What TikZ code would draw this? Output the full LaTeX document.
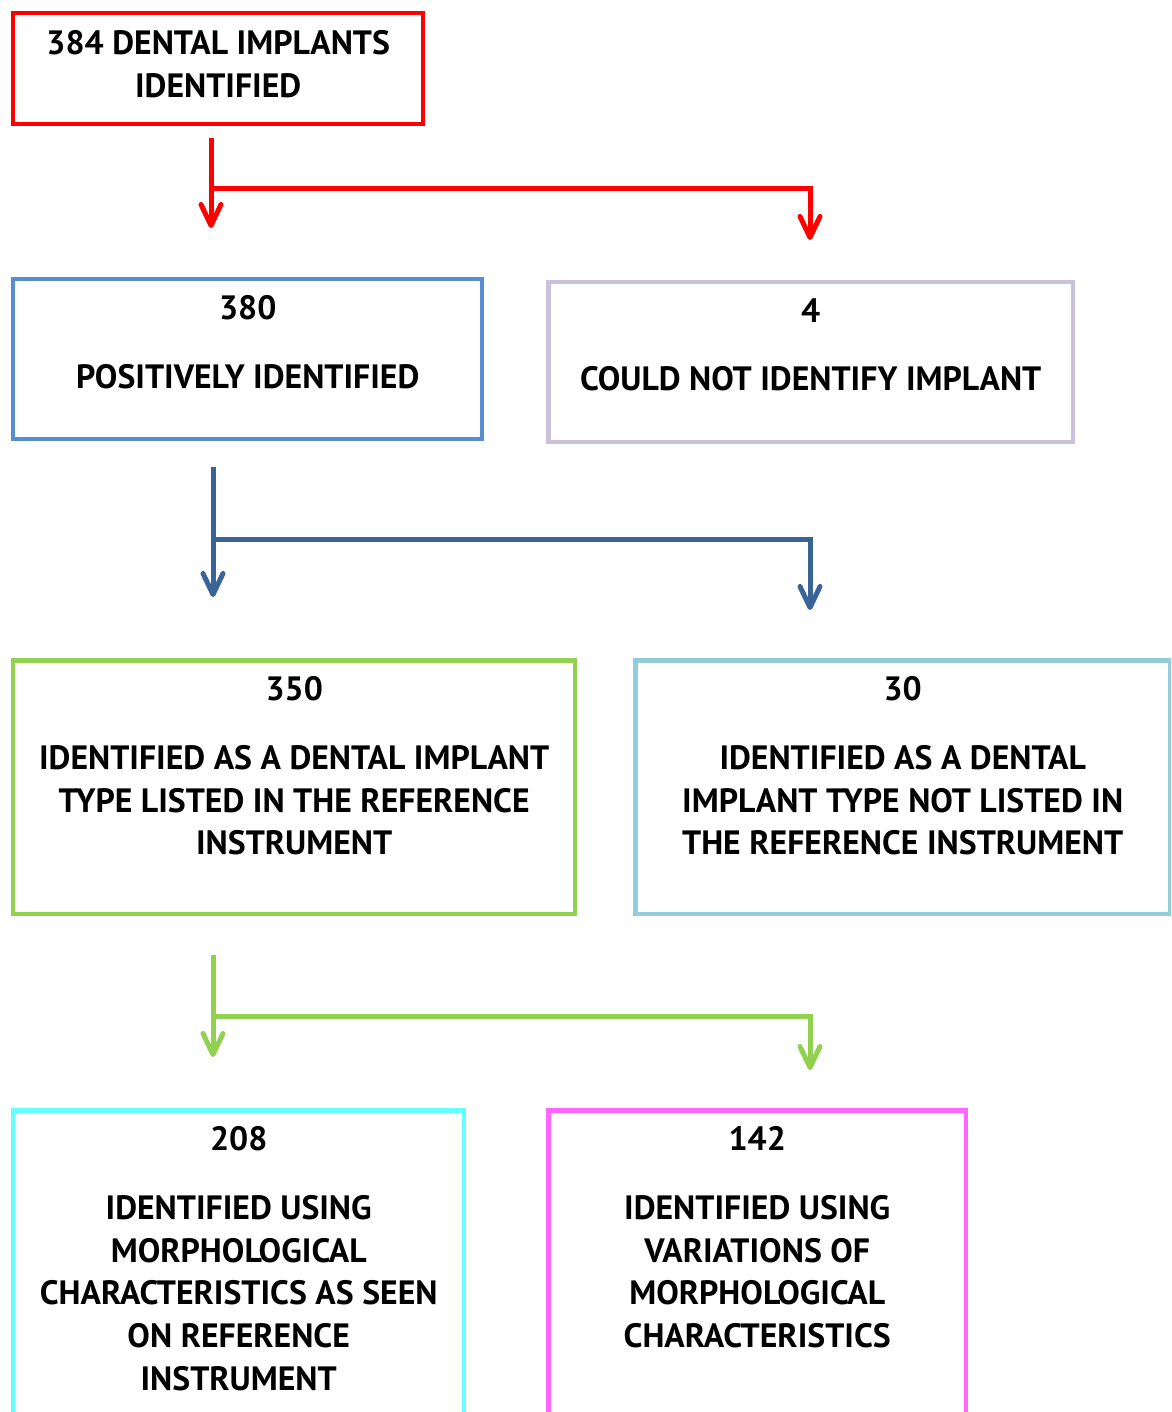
\documentclass[tikz,border=0pt]{standalone}
\usepackage{fontspec}
\setmainfont{PT Sans}
\usepackage{tikz}
\usetikzlibrary{arrows.meta,positioning}
\definecolor{implRed}{HTML}{FF0000}
\definecolor{implBlue}{HTML}{558ED5}
\definecolor{implLavender}{HTML}{CCC1DA}
\definecolor{implGreen}{HTML}{92D050}
\definecolor{implSky}{HTML}{93CDDD}
\definecolor{implCyan}{HTML}{66FFFF}
\definecolor{implMagenta}{HTML}{FF66FF}
\definecolor{implNavy}{HTML}{3A6496}
\tikzset{%
  >={Straight Barb[length=0.42cm,width=0.4cm,round]},
  % Specifications for style of nodes:
      box/.style = {rectangle, line width=0.09cm, anchor=north west,
                    inner sep=0pt},
  boxtext/.style = {align=center, inner sep=0pt,
                    font=\bfseries\fontsize{19.2}{24.4}\selectfont},
     flow/.style = {->, line width=0.1cm},
}

\begin{document}
\begin{tikzpicture}[x=0.02cm, y=-0.02cm]
  \useasboundingbox (0,0) rectangle (1171,1412);
  \clip (0,0) rectangle (1171,1412);
  % Specification of boxes (position, size)
  \node (top)     [box, draw=implRed, minimum width=8.2cm, minimum height=2.22cm]
                                                          at (11,11) {};
  \node (pos)     [box, draw=implBlue, minimum width=9.38cm, minimum height=3.2cm]
                                                          at (11,277) {};
  \node (notId)   [box, draw=implLavender, minimum width=10.5cm, minimum height=3.2cm]
                                                          at (546,280) {};
  \node (listed)  [box, draw=implGreen, minimum width=11.24cm, minimum height=5.08cm]
                                                          at (11,658) {};
  \node (notList) [box, draw=implSky, minimum width=10.7cm, minimum height=5.08cm]
                                                          at (633,658) {};
  \node (morph)   [box, draw=implCyan, minimum width=9.02cm, minimum height=6.6cm]
                                                          at (11,1108) {};
  \node (varMorph)[box, draw=implMagenta, minimum width=8.36cm, minimum height=6.6cm]
                                                          at (546,1108) {};

  % Texts inside the boxes
  \node (topText)     [boxtext, yshift=0.1cm] at (top.center)
                      {384 DENTAL IMPLANTS\\IDENTIFIED};
  \node (posText)     [boxtext, below=0.36cm of pos.north]
                      {380\\[14.7pt]POSITIVELY IDENTIFIED};
  \node (notIdText)   [boxtext, below=0.36cm of notId.north]
                      {4\\[14.7pt]COULD NOT IDENTIFY IMPLANT};
  \node (listedText)  [boxtext, below=0.36cm of listed.north]
                      {350\\[14.7pt]IDENTIFIED AS A DENTAL IMPLANT\\TYPE LISTED IN THE REFERENCE\\INSTRUMENT};
  \node (notListText) [boxtext, below=0.36cm of notList.north]
                      {30\\[14.7pt]IDENTIFIED AS A DENTAL\\IMPLANT TYPE NOT LISTED IN\\THE REFERENCE INSTRUMENT};
  \node (morphText)   [boxtext, below=0.36cm of morph.north]
                      {208\\[14.7pt]IDENTIFIED USING\\MORPHOLOGICAL\\CHARACTERISTICS AS SEEN\\ON REFERENCE\\INSTRUMENT};
  \node (varText)     [boxtext, below=0.36cm of varMorph.north]
                      {142\\[14.7pt]IDENTIFIED USING\\VARIATIONS OF\\MORPHOLOGICAL\\CHARACTERISTICS};

  % Branch points of the connectors
  \coordinate (split1) at (211,189);
  \coordinate (drop1)  at (810,189);
  \coordinate (split2) at (213,539);
  \coordinate (drop2)  at (810,539);
  \coordinate (split3) at (213,1016);
  \coordinate (drop3)  at (810,1016);

  % Connectors between the boxes
  \draw[flow, draw=implRed, shorten <=0.24cm, shorten >=0.98cm]
        (top.south -| split1) -- (pos.north -| split1);
  \draw[flow, draw=implRed, shorten >=0.8cm]
        (split1) -- (drop1) -- (notId.north -| drop1);
  \draw[flow, draw=implNavy, shorten <=0.52cm, shorten >=1.22cm]
        (pos.south -| split2) -- (listed.north -| split2);
  \draw[flow, draw=implNavy, shorten >=0.96cm]
        (split2) -- (drop2) -- (notList.north -| drop2);
  \draw[flow, draw=implGreen, shorten <=0.78cm, shorten >=1.02cm]
        (listed.south -| split3) -- (morph.north -| split3);
  \draw[flow, draw=implGreen, shorten >=0.76cm]
        (split3) -- (drop3) -- (varMorph.north -| drop3);
\end{tikzpicture}
\end{document}
